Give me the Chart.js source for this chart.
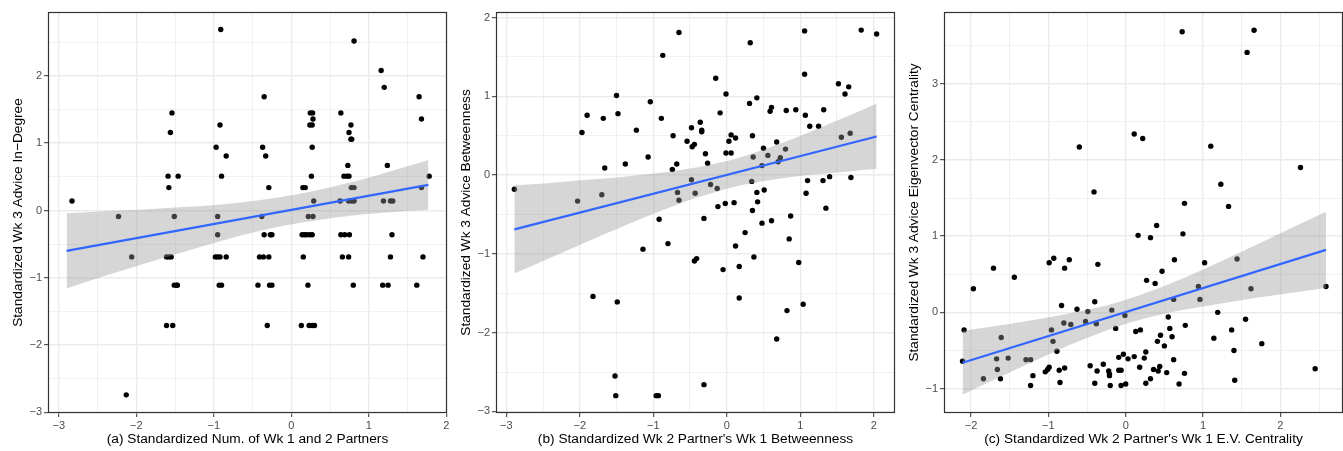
<!DOCTYPE html>
<html>
<head>
<meta charset="utf-8">
<script src="https://cdn.jsdelivr.net/npm/chart.js@4"></script>
<style>
  html, body { margin: 0; padding: 0; background: #fff; overflow: hidden; }
  .panel { position: absolute; top: 0; height: 451px; }
</style>
</head>
<body>
<div class="panel" style="left:0;width:449px"><canvas id="chartA"></canvas></div>
<div class="panel" style="left:449px;width:448px"><canvas id="chartB"></canvas></div>
<div class="panel" style="left:897px;width:446px"><canvas id="chartC"></canvas></div>
<script>
// panel (a): in-degree vs number of partners
const aX = [-2.83,-2.23,-2.06,-2.13,
  -1.59,-1.58,-1.54,-1.56,-1.46,-1.51,-1.61,-1.58,-1.55,-1.51,-1.48,-1.47,-1.61,-1.53,
  -0.91,-0.92,-0.97,-0.84,-0.90,-0.95,-0.95,-0.98,-0.95,-0.92,-0.84,-0.93,-0.90,
  -0.35,-0.37,-0.33,-0.29,-0.38,-0.35,-0.27,-0.25,-0.41,-0.36,-0.29,-0.43,-0.28,-0.25,-0.31,
  0.245,0.275,0.28,0.24,0.27,0.27,0.26,0.15,0.18,0.29,0.22,0.28,0.14,0.17,0.20,0.24,0.27,0.155,0.215,0.13,0.23,0.27,0.30,
  0.64,0.77,0.745,0.77,0.78,0.73,0.68,0.72,0.745,0.775,0.81,0.63,0.74,0.78,0.81,0.64,0.69,0.75,0.66,0.74,0.80,0.81,
  1.16,1.20,1.24,1.19,1.28,1.31,1.30,1.28,1.18,1.25,
  1.65,1.68,1.78,1.68,1.70,1.62];
const aY = [0.14,-0.09,-0.69,-2.74,
  0.51,0.34,1.45,1.16,0.51,-0.09,-0.69,-0.69,-0.69,-1.11,-1.11,-1.11,-1.71,-1.71,
  2.69,1.27,0.94,0.81,0.51,-0.09,-0.36,-0.69,-0.69,-0.69,-0.69,-1.11,-1.11,
  1.69,0.94,0.81,0.34,-0.09,-0.36,-0.36,-0.36,-0.69,-0.69,-0.69,-1.11,-1.11,-1.11,-1.71,
  1.45,1.45,1.36,1.27,1.27,0.94,0.51,0.34,0.34,0.14,-0.09,-0.09,-0.36,-0.36,-0.36,-0.36,-0.36,-0.69,-1.11,-1.71,-1.71,-1.71,-1.71,
  1.45,1.27,1.16,1.06,1.06,0.67,0.51,0.51,0.51,0.34,0.34,0.14,0.14,0.14,0.14,-0.36,-0.36,-0.36,-0.69,-0.69,-1.11,2.52,
  2.08,1.83,0.67,0.14,0.14,0.14,-0.36,-0.69,-1.11,-1.11,
  1.69,1.36,0.51,0.34,-0.69,-1.11];
const aFitX = [-2.9, 1.77];
const aFitY = [-0.60, 0.38];
const aBandX  = [-2.9, -2.4, -1.9, -1.4, -0.9, -0.4, 0.1, 0.6, 1.1, 1.77];
const aBandHi = [-0.04, -0.01, 0.015, 0.05, 0.09, 0.155, 0.245, 0.37, 0.52, 0.75];
const aBandLo = [-1.16, -0.97, -0.79, -0.62, -0.45, -0.30, -0.185, -0.10, -0.04, 0.01];
const aTicksX = [-3, -2, -1, 0, 1, 2];
const aTicksY = [-3, -2, -1, 0, 1, 2];

// panel (b): betweenness
const bX = [-2.89,-2.03,-1.97,-1.90,-1.82,-1.70,-1.68,-1.66,-1.50,-1.48,-1.49,-1.52,-1.51,-1.38,-1.23,-1.14,-1.07,-1.04,
  -0.96,-0.93,-0.92,-0.89,-0.87,-0.80,-0.74,-0.73,-0.68,-0.67,-0.65,-0.65,-0.54,-0.48,-0.48,-0.47,-0.44,-0.43,-0.44,-0.41,
  -0.36,-0.34,-0.34,-0.31,-0.31,-0.29,-0.26,-0.22,-0.15,-0.13,-0.12,-0.09,-0.05,-0.02,-0.01,-0.01,
  0.03,0.06,0.06,0.10,0.12,0.12,0.17,0.17,0.25,0.31,0.32,0.34,0.35,0.36,0.35,0.37,0.41,0.41,0.42,0.48,0.48,0.50,0.51,0.56,
  0.59,0.61,0.61,0.68,0.68,0.70,0.73,0.80,0.81,0.82,0.85,0.87,0.94,0.98,
  1.04,1.06,1.06,1.07,1.08,1.10,1.13,1.25,1.31,1.32,1.35,1.40,1.52,1.56,1.61,1.66,1.68,1.69,1.83,2.04];
const bY = [-0.18,-0.33,0.54,0.76,-1.54,-0.25,0.72,0.09,1.01,0.78,-1.61,-2.55,-2.80,0.14,0.57,-0.94,0.23,0.93,
  -2.80,-2.80,-0.56,0.72,1.52,-0.87,0.07,0.50,0.14,-0.22,-0.32,1.81,0.43,-0.06,0.60,0.36,0.39,-0.23,-1.09,-1.06,
  0.67,0.57,0.55,-0.55,-2.66,0.27,0.15,-0.12,1.23,-0.17,-0.40,0.79,-1.20,-0.36,1.03,0.28,
  0.43,0.51,0.28,-0.35,0.47,-0.90,-1.16,-1.56,-0.73,0.91,1.68,-0.08,0.50,0.23,-0.45,-1.04,0.98,-0.22,-0.34,0.12,-0.61,0.34,-0.19,0.25,
  0.81,0.86,-0.58,0.42,-2.08,0.17,0.22,0.33,0.82,-1.72,-0.81,-0.52,0.83,-1.11,
  -1.64,1.83,1.28,0.76,-0.23,-0.07,0.62,0.62,-0.07,0.83,-0.42,-0.02,1.16,0.48,1.03,1.12,0.53,-0.03,1.84,1.79];
const bFitX = [-2.89, 2.04];
const bFitY = [-0.69, 0.49];
const bBandX  = [-2.89, -2.4, -1.9, -1.4, -0.9, -0.4, 0.1, 0.6, 1.1, 1.6, 2.04];
const bBandHi = [-0.13, -0.10, -0.06, -0.02, 0.03, 0.10, 0.20, 0.355, 0.535, 0.73, 0.91];
const bBandLo = [-1.25, -1.05, -0.845, -0.645, -0.456, -0.286, -0.15, -0.063, 0.0, 0.04, 0.08];
const bTicksX = [-3, -2, -1, 0, 1, 2];
const bTicksY = [-3, -2, -1, 0, 1, 2];

// panel (c): eigenvector centrality
const cX = [-2.11,-2.09,-1.97,-1.84,-1.71,-1.67,-1.66,-1.62,-1.61,-1.52,-1.44,-1.29,-1.23,-1.23,-1.20,-1.04,-1.01,-0.99,
  -0.99,-0.96,-0.94,-0.93,-0.89,-0.86,-0.85,-0.83,-0.80,-0.79,-0.79,-0.73,-0.71,-0.63,-0.60,-0.52,-0.49,-0.46,-0.41,-0.40,
  -0.40,-0.38,-0.37,-0.36,-0.29,-0.22,-0.21,-0.21,-0.20,-0.18,-0.13,-0.09,-0.06,-0.09,-0.06,-0.03,-0.01,0.00,0.03,
  0.11,0.11,0.13,0.16,0.18,0.19,0.22,0.24,0.26,0.26,0.27,0.32,0.32,0.36,0.42,0.38,0.40,0.41,0.44,0.45,0.47,0.50,0.53,
  0.55,0.57,0.60,0.62,0.62,0.63,0.69,0.73,0.74,0.76,0.76,0.77,0.94,0.96,1.02,1.10,1.14,1.19,1.23,1.33,1.37,1.40,1.41,
  1.44,1.55,1.57,1.62,1.66,1.76,2.26,2.45,2.59];
const cY = [-0.64,-0.23,0.31,-0.87,0.58,-0.61,-0.75,-0.87,-0.33,-0.60,0.46,-0.62,-0.62,-0.96,-0.83,-0.78,-0.75,-0.72,
  0.65,-0.23,-0.38,0.71,-0.51,-0.76,-0.92,0.09,-0.14,-0.73,0.58,0.69,-0.16,0.04,2.17,-0.12,0.01,-0.70,1.58,0.14,
  -0.93,-0.15,-0.77,0.63,-0.68,-0.77,-0.81,-0.83,-0.96,0.03,-0.21,-0.76,-0.76,-0.59,-0.96,-0.55,-0.04,-0.94,-0.61,
  -0.58,2.34,-0.25,1.01,-0.72,-0.23,2.28,-0.60,-0.52,-0.93,0.42,0.98,-0.87,-0.75,-0.77,0.38,1.14,-0.38,-0.71,-0.30,0.54,-0.44,-0.79,
  -0.06,-0.21,-0.32,-0.62,0.17,0.69,-0.94,3.68,1.03,1.43,-0.80,-0.17,0.34,0.17,0.65,2.18,-0.34,0.00,1.68,1.39,-0.23,-0.50,-0.89,
  0.70,-0.09,3.41,0.31,3.70,-0.41,1.90,-0.74,0.34];
const cFitX = [-2.11, 2.59];
const cFitY = [-0.66, 0.82];
const cBandX  = [-2.11, -1.6, -1.1, -0.6, -0.1, 0.4, 0.9, 1.4, 1.9, 2.59];
const cBandHi = [-0.24, -0.165, -0.085, 0.01, 0.133, 0.306, 0.518, 0.75, 0.99, 1.32];
const cBandLo = [-1.08, -0.835, -0.60, -0.376, -0.185, -0.042, 0.06, 0.144, 0.22, 0.32];
const cTicksX = [-2, -1, 0, 1, 2];
const cTicksY = [-1, 0, 1, 2, 3];

const FONT = "'Liberation Sans', Arial, Helvetica, sans-serif";

const pairs = (xs, ys) => xs.map((x, i) => ({ x: x, y: ys[i] }));
const fmt = v => v < 0 ? '\u2212' + Math.abs(v) : String(v);
const halfSteps = (min, max) => {
  const out = [];
  for (let v = Math.ceil(min * 2) / 2; v <= max + 1e-9; v += 0.5) out.push({ value: Math.round(v * 2) / 2 });
  return out;
};

// full panel border like theme_bw
const frame = {
  id: 'frame',
  afterDatasetsDraw(chart) {
    const { ctx, chartArea: a } = chart;
    ctx.save();
    ctx.strokeStyle = '#333333';
    ctx.lineWidth = 1.2;
    ctx.strokeRect(Math.round(a.left) + 0.5, Math.round(a.top) + 0.5,
      Math.round(a.right - a.left) - 1, Math.round(a.bottom - a.top) - 1);
    ctx.restore();
  }
};

function axis(range, labels, title, isX, size, titlePad) {
  return {
    type: 'linear',
    min: range[0],
    max: range[1],
    afterBuildTicks: s => { s.ticks = halfSteps(s.min, s.max); },
    afterFit: s => {
      if (isX) s.height = size; else s.width = size;
    },
    ticks: {
      autoSkip: false,
      maxRotation: 0,
      padding: 2,
      color: '#4D4D4D',
      font: { family: FONT, size: 11 },
      callback: v => labels.includes(v) ? fmt(v) : ''
    },
    grid: {
      color: '#EBEBEB',
      lineWidth: c => Number.isInteger(c.tick.value) ? 1.4 : 0.7,
      tickLength: 4,
      tickWidth: 1,
      tickColor: c => labels.includes(c.tick.value) ? '#333333' : 'rgba(0,0,0,0)'
    },
    border: { display: false },
    title: {
      display: true,
      text: title,
      color: '#000',
      font: { family: FONT, size: 13.7 },
      padding: isX ? { top: 0, bottom: titlePad } : { top: titlePad, bottom: 0 }
    }
  };
}

function makePanel(id, p) {
  const canvas = document.getElementById(id);
  const chart = new Chart(canvas, {
    type: 'scatter',
    data: {
      datasets: [
        {
          type: 'line',
          data: pairs(p.fitX, p.fitY),
          borderColor: '#3366FF',
          borderWidth: 2.2,
          pointRadius: 0,
          fill: false,
          order: 1
        },
        {
          type: 'line',
          data: pairs(p.bandX, p.bandHi),
          borderColor: 'rgba(0,0,0,0)',
          borderWidth: 0,
          pointRadius: 0,
          cubicInterpolationMode: 'monotone',
          fill: false,
          order: 2
        },
        {
          type: 'line',
          data: pairs(p.bandX, p.bandLo),
          borderColor: 'rgba(0,0,0,0)',
          borderWidth: 0,
          pointRadius: 0,
          cubicInterpolationMode: 'monotone',
          fill: '-1',
          backgroundColor: 'rgba(153,153,153,0.4)',
          order: 2
        },
        {
          data: pairs(p.x, p.y),
          backgroundColor: '#000',
          borderColor: '#000',
          borderWidth: 0,
          pointRadius: 2.7,
          order: 3
        }
      ]
    },
    options: {
      responsive: true,
      maintainAspectRatio: false,
      animation: false,
      layout: { padding: { left: 0, top: 12, right: 0, bottom: 0 } },
      plugins: { legend: { display: false }, tooltip: { enabled: false } },
      scales: {
        x: axis(p.xRange, p.ticksX, p.xTitle, true, 38, 3.3),
        y: axis(p.yRange, p.ticksY, p.yTitle, false, p.yWidth, p.yTitlePad)
      }
    },
    plugins: [frame]
  });
  // the last x label pushes the plot edge in, so widen the box until the plot ends where it should
  const miss = p.areaRight - chart.chartArea.right;
  if (Math.abs(miss) > 0.2) {
    const box = canvas.parentNode;
    box.style.width = (box.clientWidth + miss) + 'px';
    chart.resize();
  }
}

makePanel('chartA', {
  x: aX, y: aY, fitX: aFitX, fitY: aFitY, bandX: aBandX, bandHi: aBandHi, bandLo: aBandLo,
  ticksX: aTicksX, ticksY: aTicksY, xRange: [-3.14, 2.01], yRange: [-3.01, 2.95],
  xTitle: '(a) Standardized Num. of Wk 1 and 2 Partners',
  yTitle: 'Standardized Wk 3 Advice In\u2212Degree',
  yWidth: 48, yTitlePad: 10, areaRight: 447
});
makePanel('chartB', {
  x: bX, y: bY, fitX: bFitX, fitY: bFitY, bandX: bBandX, bandHi: bBandHi, bandLo: bBandLo,
  ticksX: bTicksX, ticksY: bTicksY, xRange: [-3.14, 2.29], yRange: [-3.02, 2.07],
  xTitle: "(b) Standardized Wk 2 Partner's Wk 1 Betweenness",
  yTitle: 'Standardized Wk 3 Advice Betweenness',
  yWidth: 47, yTitlePad: 9, areaRight: 446
});
makePanel('chartC', {
  x: cX, y: cY, fitX: cFitX, fitY: cFitY, bandX: cBandX, bandHi: cBandHi, bandLo: cBandLo,
  ticksX: cTicksX, ticksY: cTicksY, xRange: [-2.35, 2.81], yRange: [-1.32, 3.94],
  xTitle: "(c) Standardized Wk 2 Partner's Wk 1 E.V. Centrality",
  yTitle: 'Standardized Wk 3 Advice Eigenvector Centrality',
  yWidth: 47, yTitlePad: 9, areaRight: 446
});
</script>
</body>
</html>
